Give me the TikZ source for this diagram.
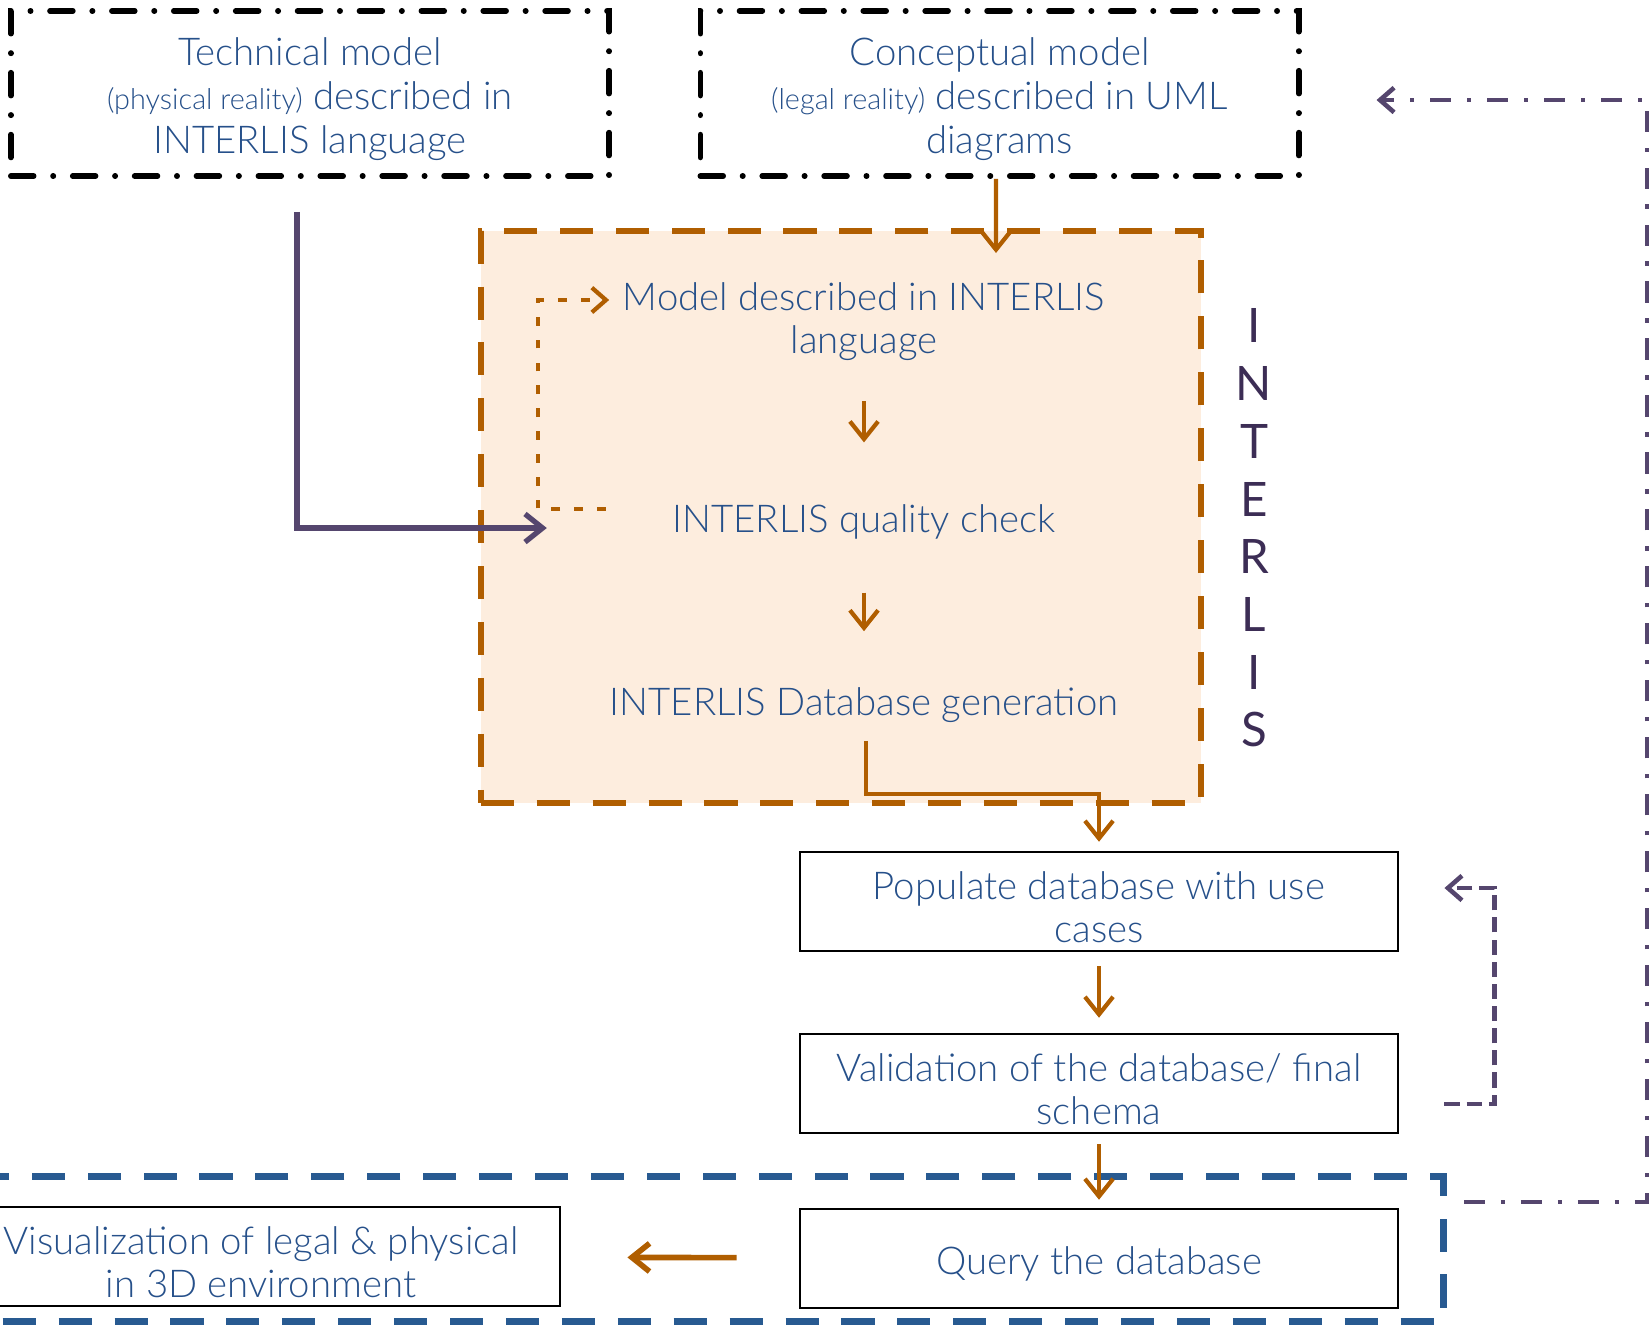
\documentclass[tikz,border=0pt]{standalone}
\usepackage{fontspec}
\setmainfont{Lato}[UprightFont={* Light}]
\newfontfamily\letterfont{Lato}
\usetikzlibrary{arrows.meta}
\definecolor{txtblue}{RGB}{38,80,138}
\definecolor{letterplum}{RGB}{60,45,85}
\definecolor{ochre}{RGB}{176,94,0}
\definecolor{peach}{RGB}{253,237,222}
\definecolor{dbblue}{RGB}{40,90,145}
\definecolor{plum}{RGB}{85,70,110}
\newcommand{\tallstrut}{\rule{0pt}{11.1pt}}
\tikzset{
  txt/.style={text=txtblue, align=center, inner sep=0pt,
    font=\fontsize{10.9}{12.2}\selectfont, execute at begin node=\tallstrut},
  modelbox/.style={txt, draw=black, line width=1.6pt, line cap=round,
    dash pattern=on 6.5pt off 5.5pt on 0.1pt off 5.5pt,
    minimum width=5.98cm, minimum height=1.65cm,
    font=\fontsize{10.9}{12.6}\selectfont},
  taskbox/.style={txt, draw=black, line width=0.7pt,
    minimum width=5.98cm, minimum height=0.99cm},
  ilibox/.style={draw=ochre, fill=peach, line width=1.8pt,
    dash pattern=on 9.4pt off 6.5pt, minimum width=7.2cm, minimum height=5.72cm},
  ililetters/.style={text=letterplum, align=center, inner sep=0pt,
    font=\letterfont\fontsize{13.5}{16.4}\selectfont},
  oarrow/.style={draw=ochre, line width=1.2pt, -{Straight Barb[length=5pt,width=8pt]}},
  oloop/.style={draw=ochre, line width=1.2pt, dash pattern=on 2.5pt off 4pt,
    -{Straight Barb[length=4pt,width=7pt]}},
  parrow/.style={draw=plum, line width=1.5pt, -{Straight Barb[length=5pt,width=8pt]}},
  pdashdot/.style={draw=plum, line width=1.3pt,
    dash pattern=on 6pt off 4.5pt on 1.2pt off 4.5pt,
    -{Straight Barb[length=4pt,width=7pt]}},
  pdashed/.style={draw=plum, line width=1.3pt, dash pattern=on 4.3pt off 2pt,
    -{Straight Barb[length=4pt,width=7pt]}},
  dbdash/.style={draw=dbblue, line width=2pt, dash pattern=on 9.4pt off 6.5pt}
}
\begin{document}
\begin{tikzpicture}[x=0.01cm, y=-0.01cm]
\useasboundingbox (0,0) rectangle (1652,1326);
% INTERLIS block
\node[ilibox] (ili) at (841,517) {};
\node[ililetters] (ililabel) at (1254,528) {I\\N\\T\\E\\R\\L\\I\\S};
\node[txt] (model) at (864,316) {\tallstrut Model described in INTERLIS\\language};
\node[txt] (check) at (864,516) {INTERLIS quality check};
\node[txt] (gen) at (864,700) {INTERLIS Database generation};
% models on top
\node[modelbox] (tech) at (310,93.5) {\tallstrut Technical model\\{\fontsize{8.2}{12.6}\selectfont (physical reality)} described in\\INTERLIS language};
\node[modelbox] (concept) at (999.5,93.5) {\tallstrut Conceptual model\\{\fontsize{8.2}{12.6}\selectfont (legal reality)} described in UML\\diagrams};
% database steps
\draw[dbdash] (-20,1176) rectangle (1443,1321);
\node[taskbox] (populate) at (1099,901.5) {\tallstrut Populate database with use\\cases};
\node[taskbox] (valid) at (1099,1083.5) {\tallstrut Validation of the database/ final\\schema};
\node[taskbox] (query) at (1099,1258.5) {Query the database};
\node[taskbox] (vis) at (261,1256.5) {\tallstrut Visualization of legal \& physical\\in 3D environment};
% connectors
\coordinate (modelin) at (996,253);
\coordinate (genturn) at (1099,794);
\coordinate (fbstart) at (1464,1202);
\draw[oarrow] ([xshift=-0.035cm]concept.south) -- (modelin);
\draw[oarrow, shorten <=0.4cm, shorten >=0.5cm] (model) -- (check);
\draw[oarrow, shorten <=0.53cm, shorten >=0.45cm] (check) -- (gen);
\draw[oarrow, shorten >=0.09cm] ([xshift=0.02cm,yshift=-0.17cm]gen.south) |- (genturn) -- (populate.north);
\draw[oarrow, shorten <=0.14cm, shorten >=0.15cm] (populate) -- (valid);
\draw[oarrow, shorten <=0.1cm, shorten >=0.08cm] (valid) -- (query);
\draw[oarrow, line width=1.6pt, shorten <=0.62cm, shorten >=0.66cm] (query) -- (vis);
\draw[oloop] ([xshift=-0.66cm,yshift=0.07cm]check.west) -- ++(-68,0) |- ([xshift=-0.13cm,yshift=0.16cm]model.west);
\draw[parrow, shorten >=1.25cm] ([xshift=-0.13cm,yshift=-0.33cm]tech.south) |- ([yshift=-0.12cm]check.west);
\draw[pdashed] ([xshift=0.45cm,yshift=-0.205cm]valid.east) -- ++(50,0) |- ([xshift=0.45cm,yshift=0.135cm]populate.east);
\draw[pdashdot] (fbstart) -- ++(183,0) |- ([xshift=0.75cm,yshift=-0.065cm]concept.east);
\end{tikzpicture}
\end{document}
